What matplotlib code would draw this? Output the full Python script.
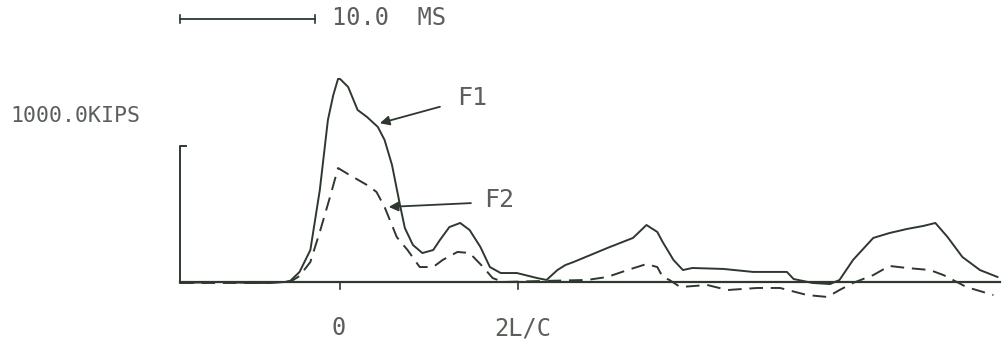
import matplotlib
matplotlib.use('Agg')
import matplotlib.pyplot as plt

# time in ms (0 = impact peak), force in kips
f1_t = [-11.85, -8.9, -6.7, -5.2, -4.1, -3.7, -3.0, -2.2, -1.5, -0.9, -0.5, -0.15, 0.0,
        0.6, 1.3, 2.0, 2.8, 3.3, 3.85, 4.44, 4.8, 5.4, 6.1, 6.9, 7.4, 8.1, 8.9, 9.6, 10.4,
        11.1, 11.9, 13.1, 14.6, 15.3, 16.1, 16.7, 17.3, 19.8, 21.7, 22.7, 23.5, 23.9,
        24.7, 25.4, 26.1, 28.4, 30.6, 33.1, 33.6, 35.0, 36.3, 37.0, 38.0, 39.5, 40.7,
        42.0, 43.2, 44.1, 45.0, 46.1, 47.4, 48.7]
f1_k = [-7, 0, -7, -7, 0, 7, 74, 235, 676, 1191, 1375, 1493, 1493,
        1434, 1265, 1213, 1140, 1044, 860, 566, 397, 272, 213, 235, 309, 404, 434, 382, 257,
        110, 66, 66, 29, 15, 88, 125, 147, 250, 324, 419, 368, 294,
        162, 88, 103, 96, 74, 74, 22, -7, -15, 15, 162, 324, 360,
        390, 412, 434, 331, 184, 88, 37]

f2_t = [-11.85, -6.7, -4.1, -3.6, -3.0, -2.2, -1.5, -0.7, -0.15, 0.7, 2.0, 2.7, 3.3,
        4.2, 5.0, 5.9, 6.9, 7.6, 8.7, 9.6, 10.6, 11.3, 12.1, 14.8, 18.3, 19.8, 21.3,
        22.7, 23.5, 23.9, 24.4, 25.2, 27.2, 28.7, 30.9, 32.6, 34.6, 36.1, 37.0, 38.0,
        39.5, 40.7, 42.0, 43.7, 44.7, 45.4, 46.4, 48.4]
f2_k = [-7, -7, 0, 7, 44, 147, 368, 640, 838, 787, 713, 662, 551,
        331, 235, 110, 110, 162, 221, 213, 110, 29, 0, 7, 15, 37, 88,
        132, 110, 37, 15, -37, -22, -59, -44, -44, -96, -110, -59, -7,
        51, 118, 103, 88, 51, 15, -37, -96]

tick_pos = [0.0, 13.2]
tick_labels = ['0', '2L/C']
scale_ms = 10.0
scale_kips = 1000.0

ink = '#2e382f'
txt = '#5a5f5a'
mono = 'DejaVu Sans Mono'

fig = plt.figure(figsize=(10.03, 3.46), dpi=100)
ax = fig.add_axes([0, 0, 1, 1])
ax.set_xlim(-25.19, 49.11)
ax.set_ylim(-470.6, 2073.5)
ax.axis('off')

x0 = -11.85
# baseline and force scale bar
ax.plot([x0, 48.9], [0, 0], color=ink, lw=1.6)
ax.plot([x0 + 0.45, x0, x0, x0 + 0.45], [scale_kips, scale_kips, 0, 0], color=ink, lw=1.4)
ax.text(-24.4, 1176, '1000.0KIPS', family=mono, fontsize=15.5,
        color=txt, va='baseline', ha='left')

# time scale bar
yb = 1934
ax.plot([x0, x0 + scale_ms], [yb, yb], color=ink, lw=1.3)
ax.plot([x0, x0], [yb - 30, yb + 30], color=ink, lw=1.2)
ax.plot([x0 + scale_ms, x0 + scale_ms], [yb - 30, yb + 30], color=ink, lw=1.2)
ax.text(-0.6, 1890, '10.0  MS', family=mono, fontsize=17,
        color=txt, va='baseline', ha='left')

# ticks below baseline
for t in tick_pos:
    ax.plot([t, t], [0, -55], color=ink, lw=1.2)
ax.text(tick_pos[0] - 0.1, -390, tick_labels[0], family=mono, fontsize=17, color=txt,
        ha='center', va='baseline')
ax.text(tick_pos[1] - 1.8, -390, tick_labels[1], family=mono, fontsize=17, color=txt,
        ha='left', va='baseline')

# force traces
ax.plot(f1_t, f1_k, color=ink, lw=1.4)
ax.plot(f2_t, f2_k, color=ink, lw=1.4, dashes=(7, 4))

# labels with arrows
ax.annotate('', xy=(2.75, 1162), xytext=(7.6, 1294),
            arrowprops=dict(arrowstyle='-|>', color=ink, lw=1.3, mutation_scale=14))
ax.text(8.7, 1301, 'F1', family=mono, fontsize=18, color=txt,
        ha='left', va='baseline')
ax.annotate('', xy=(3.4, 551), xytext=(9.9, 581),
            arrowprops=dict(arrowstyle='-|>', color=ink, lw=1.3, mutation_scale=14))
ax.text(10.7, 551, 'F2', family=mono, fontsize=18, color=txt,
        ha='left', va='baseline')

fig.savefig('out.png', dpi=100)
